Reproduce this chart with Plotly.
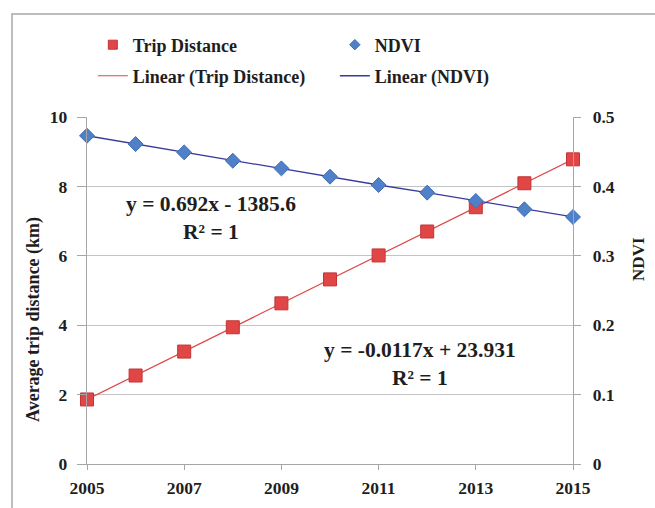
import plotly.graph_objects as go

years = [2005, 2006, 2007, 2008, 2009, 2010, 2011, 2012, 2013, 2014, 2015]
trip_distance = [1.86, 2.55, 3.24, 3.94, 4.63, 5.32, 6.01, 6.70, 7.40, 8.09, 8.78]
ndvi = [0.473, 0.461, 0.449, 0.437, 0.426, 0.414, 0.402, 0.391, 0.379, 0.367, 0.356]
x_ticks = [2005, 2007, 2009, 2011, 2013, 2015]
eq_trip = "y = 0.692x - 1385.6<br>R² = 1"
eq_ndvi = "y = -0.0117x + 23.931<br>R² = 1"
y_title = "Average trip distance (km)"
y2_title = "NDVI"

FONT = "Liberation Serif"
TXT = "#1e1e1e"
RED = "#e04646"
RED_EDGE = "#c43434"
BLUE = "#4f80c8"
BLUE_EDGE = "#3f6db5"
NAVY = "#3a3a9c"
AXIS = "#a6a6a6"
GRID = "#c4c4c4"

fig = go.Figure()
# data traces (not in legend)
fig.add_trace(go.Scatter(x=years, y=trip_distance, mode="lines", showlegend=False,
                         line=dict(color=RED, width=1.2)))
fig.add_trace(go.Scatter(x=years, y=ndvi, mode="lines", yaxis="y2", showlegend=False,
                         line=dict(color=NAVY, width=1.3)))
fig.add_trace(go.Scatter(x=years, y=trip_distance, mode="markers", showlegend=False,
                         marker=dict(symbol="square", size=13, color=RED,
                                     line=dict(color=RED_EDGE, width=1)),
                         cliponaxis=False))
fig.add_trace(go.Scatter(x=years, y=ndvi, mode="markers", yaxis="y2", showlegend=False,
                         marker=dict(symbol="diamond", size=11.5, color=BLUE,
                                     line=dict(color=BLUE_EDGE, width=1)),
                         cliponaxis=False))
# legend entries
fig.add_trace(go.Scatter(x=[None], y=[None], mode="markers", name="Trip Distance",
                         legend="legend",
                         marker=dict(symbol="square", size=9, color=RED,
                                     line=dict(color=RED_EDGE, width=1))))
fig.add_trace(go.Scatter(x=[None], y=[None], mode="markers", name="NDVI",
                         legend="legend",
                         marker=dict(symbol="diamond", size=8, color=BLUE,
                                     line=dict(color=BLUE_EDGE, width=1))))
fig.add_trace(go.Scatter(x=[None], y=[None], mode="lines", name="Linear (Trip Distance)",
                         legend="legend2", line=dict(color=RED, width=1.2)))
fig.add_trace(go.Scatter(x=[None], y=[None], mode="lines", name="Linear (NDVI)",
                         legend="legend2", line=dict(color=NAVY, width=1.3)))

legend_common = dict(orientation="h", xanchor="left", yanchor="middle",
                     entrywidth=197, entrywidthmode="pixels",
                     font=dict(family=FONT, size=18, color=TXT, weight="bold"),
                     traceorder="normal", bgcolor="rgba(0,0,0,0)")
tickfont = dict(family=FONT, size=17.5, color=TXT, weight="bold")

fig.update_layout(
    width=655, height=508,
    margin=dict(l=87, r=82, t=117, b=44, autoexpand=False),
    paper_bgcolor="white", plot_bgcolor="white",
    font=dict(family=FONT, size=17, color=TXT),
    showlegend=True,
    legend=dict(x=0.012, y=1.2075, **legend_common),
    legend2=dict(x=0.012, y=1.118, **legend_common),
    xaxis=dict(range=[2005, 2015], tickvals=x_ticks, ticks="outside", ticklen=5,
               tickcolor=AXIS, showline=True, linecolor=AXIS, linewidth=1.3,
               showgrid=False, zeroline=False, tickfont=tickfont, ticklabelstandoff=3),
    yaxis=dict(range=[0, 10], dtick=2, ticks="outside", ticklen=9, tickcolor=AXIS,
               showline=True, linecolor=AXIS, linewidth=1.3,
               showgrid=True, gridcolor=GRID, gridwidth=1.2, zeroline=False,
               tickfont=tickfont, ticklabelstandoff=6),
    yaxis2=dict(range=[0, 0.5], dtick=0.1, overlaying="y", side="right",
                ticks="outside", ticklen=7, tickcolor=AXIS,
                showline=True, linecolor=AXIS, linewidth=1.3,
                showgrid=False, zeroline=False, tickfont=tickfont, ticklabelstandoff=8),
)

fig.add_annotation(x=2007.55, y=7.10, xref="x", yref="y", text="<b>" + eq_trip + "</b>",
                   showarrow=False, font=dict(family=FONT, size=21.5, color=TXT), align="center")
fig.add_annotation(x=2011.85, y=2.87, xref="x", yref="y", text="<b>" + eq_ndvi + "</b>",
                   showarrow=False, font=dict(family=FONT, size=21.5, color=TXT), align="center")
fig.add_annotation(x=-0.109, y=0.415, xref="paper", yref="paper", text=y_title,
                   xanchor="center", yanchor="middle",
                   textangle=-90, showarrow=False,
                   font=dict(family=FONT, size=18, color=TXT, weight="bold"))
fig.add_annotation(x=1.1358, y=0.591, xref="paper", yref="paper", text=y2_title,
                   xanchor="center", yanchor="middle",
                   textangle=-90, showarrow=False,
                   font=dict(family=FONT, size=17, color=TXT, weight="bold"))

fig.add_shape(type="rect", xref="paper", yref="paper", x0=-0.1543, y0=-0.5, x1=1.6, y1=1.2968,
              line=dict(color="#a8a8a8", width=1.5), fillcolor="rgba(0,0,0,0)", layer="below")

fig.write_html("out.html", config={"displayModeBar": False},
               post_script="document.body.style.margin='0px';document.body.style.overflow='hidden';")
